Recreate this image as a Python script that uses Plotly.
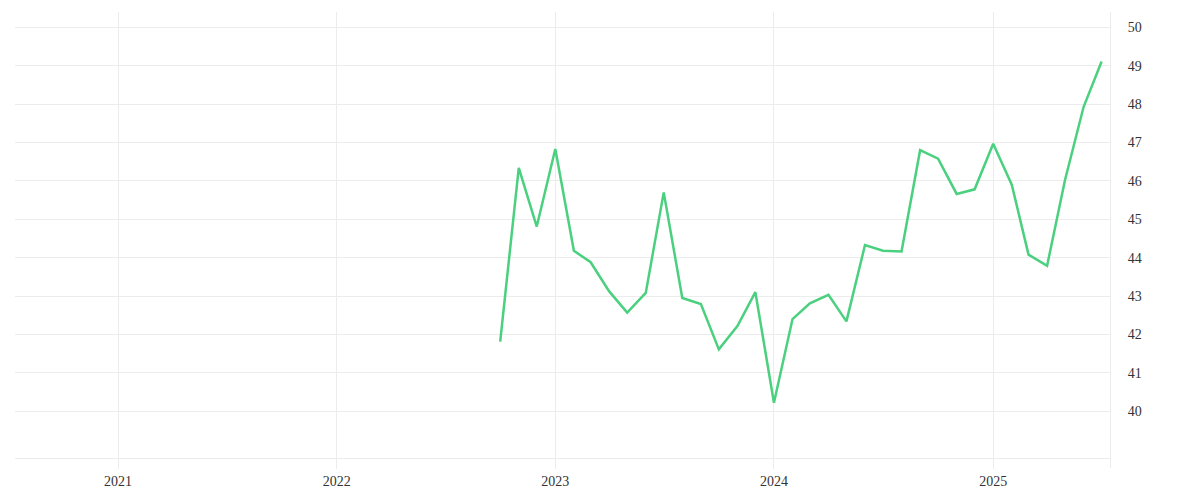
import pandas as pd
import plotly.graph_objects as go

# monthly values, Oct 2022 .. Jul 2025
months = pd.date_range("2022-10-01", "2025-07-01", freq="MS")
values = [41.81, 46.34, 44.81, 46.83, 44.18, 43.88, 43.12, 42.57, 43.08, 45.70,
          42.95, 42.79, 41.61, 42.22, 43.10, 40.22, 42.40, 42.81, 43.03, 42.34,
          44.33, 44.18, 44.16, 46.80, 46.58, 45.66, 45.78, 46.97, 45.90, 44.08,
          43.79, 46.03, 47.93, 49.11]
y_ticks = list(range(40, 51))

grid = "#ececec"
font = "Liberation Serif"

fig = go.Figure()
fig.add_trace(go.Scatter(x=months, y=values, mode="lines",
                         line=dict(color="#4ad07f", width=2.5),
                         hoverinfo="x+y"))

# page body adds 8px, margins are set to land the plot where the original is
fig.update_layout(
    width=1200, height=500,
    margin=dict(l=7, r=98, t=4, b=40, autoexpand=False),
    paper_bgcolor="white", plot_bgcolor="white",
    showlegend=False,
    font=dict(family=font, size=14, color="#333333"),
    xaxis=dict(range=["2020-07-13", "2025-07-15"], dtick="M12", tickformat="%Y",
               showgrid=True, gridcolor=grid, gridwidth=1,
               showline=True, linecolor=grid, linewidth=1,
               anchor="free", position=0.022,
               ticks="outside", ticklen=10, tickcolor=grid,
               zeroline=False),
    yaxis=dict(side="right", range=[38.52, 50.40], tickvals=y_ticks,
               showgrid=True, gridcolor=grid, gridwidth=1,
               showline=True, linecolor=grid, linewidth=1,
               ticks="", ticklabelstandoff=14, zeroline=False),
)

fig.write_html("out.html")
